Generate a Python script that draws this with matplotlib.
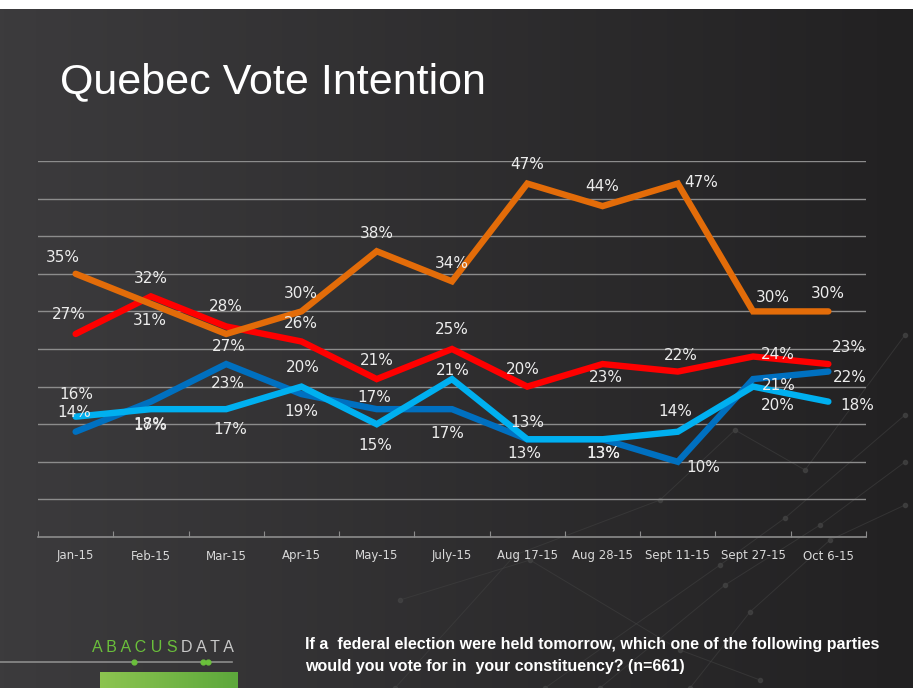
import numpy as np
import matplotlib.pyplot as plt

# Data
periods = ["Jan-15", "Feb-15", "Mar-15", "Apr-15", "May-15", "July-15",
           "Aug 17-15", "Aug 28-15", "Sept 11-15", "Sept 27-15", "Oct 6-15"]
ndp = [35, 31, 27, 30, 38, 34, 47, 44, 47, 30, 30]
liberal = [27, 32, 28, 26, 21, 25, 20, 23, 22, 24, 23]
conservative = [14, 18, 23, 19, 17, 17, 13, 13, 10, 21, 22]
bloc = [16, 17, 17, 20, 15, 21, 13, 13, 14, 20, 18]

# label offsets in pixels (dx, dy) for each point
ndp_off = [(-13, 16), (-1, -17), (3, -13), (-1, 18), (0, 18), (0, 18),
           (0, 19), (0, 20), (23, 1), (20, 14), (-1, 18)]
lib_off = [(-7, 19), (0, 18), (0, 20), (-1, 18), (0, 19), (0, 19),
           (-4, 17), (3, -13), (3, 16), (25, 2), (21, 17)]
con_off = [(-1, 19), (-1, -23), (2, -19), (0, -17), (-2, 12), (-5, -24),
           (-3, -14), (1, -14), (25, -6), (26, -6), (21, -6)]
bloc_off = [(1, 22), (-1, -16), (4, -20), (1, 19), (-1, -21), (1, 9),
            (0, 17), (1, -14), (-3, 20), (25, -19), (29, -4)]

W, H = 915, 688
fig = plt.figure(figsize=(W / 100, H / 100), dpi=100)
fig.patch.set_facecolor("white")

# slide background with horizontal gradient (white strip on top and right)
BW, BH = W - 2, H - 9
bg = fig.add_axes([0, 0, BW / W, BH / H])
grad = np.linspace(0, 1, 256).reshape(1, -1)
left = np.array([0x3c, 0x3b, 0x3d]) / 255
right = np.array([0x22, 0x21, 0x22]) / 255
img = left[None, None, :] * (1 - grad[..., None]) + right[None, None, :] * grad[..., None]
bg.imshow(img, aspect="auto", extent=[0, 1, 0, 1])


def bx(px):
    return px / BW


def by(py):
    # py measured from top of the whole figure
    return (H - py) / BH


# faint network decoration
net = [[(395, 688), (515, 555), (660, 500), (735, 430), (805, 470), (905, 335)],
       [(545, 688), (720, 565), (785, 518), (905, 415)],
       [(690, 688), (750, 612), (830, 540), (905, 505)],
       [(400, 600), (530, 560), (680, 650), (760, 680)],
       [(600, 688), (725, 585), (820, 525), (905, 462)]]
for pts in net:
    xs = [bx(p[0]) for p in pts]
    ys = [by(p[1]) for p in pts]
    bg.plot(xs, ys, color="#404040", lw=0.7, alpha=0.6)
    bg.scatter(xs, ys, s=9, color="#454545", alpha=0.7)

fig.text(60 / W, 1 - 82 / H, "Quebec Vote Intention", color="white",
         fontsize=31, family="Liberation Sans", va="center", ha="left")

# chart area
ax = fig.add_axes([38 / W, 1 - 537 / H, (866 - 38) / W, (537 - 161) / H])
ax.set_facecolor("none")
x = np.arange(len(periods))
ax.set_xlim(-0.5, len(periods) - 0.5)
ax.set_ylim(0, 50)
ax.set_yticks(np.arange(5, 51, 5))
ax.grid(axis="y", color="#8c8c8c", lw=1.0)
ax.set_axisbelow(True)
for s in ["top", "right", "left"]:
    ax.spines[s].set_visible(False)
ax.spines["bottom"].set_color("#8c8c8c")
ax.spines["bottom"].set_linewidth(1.2)
ax.tick_params(axis="y", left=False, labelleft=False)
ax.set_xticks(np.arange(-0.5, len(periods), 1.0), minor=False)
ax.set_xticklabels([])
ax.tick_params(axis="x", which="major", color="#8c8c8c", length=4, direction="in")
ax.set_xticks(x, minor=True)
ax.set_xticklabels(periods, minor=True)
ax.tick_params(axis="x", which="minor", length=0, pad=9, labelsize=8.5, labelcolor="#d9d9d9")

series = [(conservative, "#0070c0", con_off),
          (bloc, "#00b0f0", bloc_off),
          (liberal, "#ff0000", lib_off),
          (ndp, "#e36c09", ndp_off)]
for vals, col, offs in series:
    ax.plot(x, vals, color=col, lw=4.6, solid_capstyle="round",
            solid_joinstyle="miter", clip_on=False)
for vals, col, offs in series:
    for xi, v, (dx, dy) in zip(x, vals, offs):
        ax.annotate(f"{v}%", (xi, v), xytext=(dx, dy), textcoords="offset pixels",
                    ha="center", va="center", color="#ececec", fontsize=11,
                    family="DejaVu Sans", annotation_clip=False)

# footnote
note_font = ["Liberation Sans Narrow", "Liberation Sans"]
fig.text(305 / W, 1 - 645 / H,
         "If a  federal election were held tomorrow, which one of the following parties",
         color="white", fontsize=11.5, weight="bold", family=note_font, va="center")
fig.text(305 / W, 1 - 666 / H,
         "would you vote for in  your constituency? (n=661)",
         color="white", fontsize=11.5, weight="bold", family=note_font, va="center")

# logo
fig.text(178 / W, 1 - 648 / H, "A B A C U S", color="#6abf3b", fontsize=11.5,
         family="Liberation Sans", va="center", ha="right")
fig.text(181 / W, 1 - 648 / H, "D A T A", color="#c8c8c8", fontsize=11.5,
         family="Liberation Sans", va="center", ha="left")
bg.plot([0, bx(232)], [by(662), by(662)], color="#8c8c8c", lw=1.2)
bg.scatter([bx(134), bx(203), bx(208)], [by(662)] * 3, s=12, color="#6abf3b", zorder=3)
green = np.linspace(0, 1, 64).reshape(1, -1)
g_l = np.array([0x8c, 0xc4, 0x50]) / 255
g_r = np.array([0x5d, 0xa8, 0x3c]) / 255
gimg = g_l[None, None, :] * (1 - green[..., None]) + g_r[None, None, :] * green[..., None]
bg.imshow(gimg, aspect="auto", extent=[bx(100), bx(238), by(688), by(672)], zorder=2)
bg.set_xlim(0, 1)
bg.set_ylim(0, 1)
bg.axis("off")

fig.savefig("out.png", dpi=100, facecolor=fig.get_facecolor())
